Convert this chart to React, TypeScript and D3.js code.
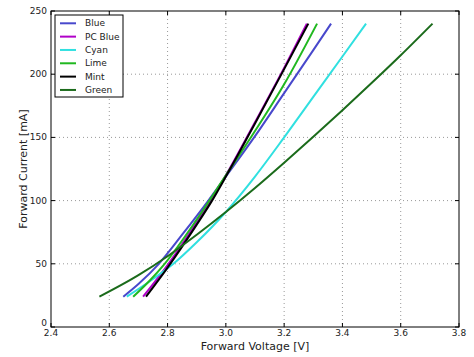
import React from "react";
import * as d3 from "d3";

const seriesNames = ["Blue", "PC Blue", "Cyan", "Lime", "Mint", "Green"];
const seriesColors = ["#4848cc", "#b000c8", "#30e0e0", "#20b820", "#000000", "#1b6b1b"];

const blueV = [2.648, 2.7, 2.77, 2.85, 2.94, 3.0, 3.1, 3.2, 3.3, 3.361];
const blueI = [24, 34, 50, 73, 100, 119, 151, 185, 219, 240];
const pcBlueV = [2.716, 2.8, 2.9, 2.95, 3.0, 3.1, 3.2, 3.278];
const pcBlueI = [24, 49, 83, 101, 120, 162, 205, 240];
const cyanV = [2.66, 2.75, 2.82, 2.9, 3.0, 3.1, 3.2, 3.3, 3.4, 3.481];
const cyanI = [24, 38, 50, 67, 91, 119, 150, 182, 214, 240];
const limeV = [2.682, 2.74, 2.79, 2.9, 3.0, 3.1, 3.2, 3.313];
const limeI = [24, 37, 50, 85, 120, 155, 192, 240];
const mintV = [2.726, 2.8, 2.9, 2.95, 3.0, 3.1, 3.2, 3.283];
const mintI = [24, 47, 81, 99, 119, 161, 204, 240];
const greenV = [2.566, 2.7, 2.8, 2.9, 3.0, 3.1, 3.2, 3.3, 3.4, 3.5, 3.6, 3.709];
const greenI = [24, 41, 56, 73, 91, 110, 130, 150.5, 171.5, 193, 215, 240];

const xTicks = [2.4, 2.6, 2.8, 3.0, 3.2, 3.4, 3.6, 3.8];
const yTicks = [0, 50, 100, 150, 200, 250];

const seriesV = [blueV, pcBlueV, cyanV, limeV, mintV, greenV];
const seriesI = [blueI, pcBlueI, cyanI, limeI, mintI, greenI];

const FONT = "DejaVu Sans, sans-serif";

export default function App() {
  const left = 51, right = 459, top = 11, bottom = 327;
  const x = d3.scaleLinear().domain([2.4, 3.8]).range([left, right]);
  const y = d3.scaleLinear().domain([0, 250]).range([bottom, top]);
  const line = d3
    .line<[number, number]>()
    .x((d) => x(d[0]))
    .y((d) => y(d[1]))
    .curve(d3.curveMonotoneX);

  return (
    <svg
      width={474}
      height={357}
      style={{ position: "absolute", left: 0, top: 0, background: "#fff" }}
      fontFamily={FONT}
    >
      <rect x={0} y={0} width={474} height={357} fill="#fff" />
      {/* grid */}
      {xTicks.slice(1, -1).map((t) => (
        <line key={"gx" + t} x1={x(t)} x2={x(t)} y1={top} y2={bottom}
          stroke="#999" strokeWidth={1} strokeDasharray="1,3" />
      ))}
      {yTicks.slice(1, -1).map((t) => (
        <line key={"gy" + t} x1={left} x2={right} y1={y(t)} y2={y(t)}
          stroke="#999" strokeWidth={1} strokeDasharray="1,3" />
      ))}
      {/* series */}
      {seriesNames.map((n, i) => (
        <path
          key={n}
          d={line(seriesV[i].map((v, j) => [v, seriesI[i][j]] as [number, number])) || ""}
          fill="none"
          stroke={seriesColors[i]}
          strokeWidth={2}
        />
      ))}
      {/* frame */}
      <rect x={left} y={top} width={right - left} height={bottom - top}
        fill="none" stroke="#000" strokeWidth={1} />
      {/* ticks */}
      {xTicks.map((t) => (
        <g key={"tx" + t}>
          <line x1={x(t)} x2={x(t)} y1={bottom} y2={bottom - 4} stroke="#000" />
          <line x1={x(t)} x2={x(t)} y1={top} y2={top + 4} stroke="#000" />
          <text x={x(t)} y={336} fontSize={9} textAnchor="middle" fill="#222">
            {t.toFixed(1)}
          </text>
        </g>
      ))}
      {yTicks.map((t) => (
        <g key={"ty" + t}>
          <line x1={left} x2={left + 4} y1={y(t)} y2={y(t)} stroke="#000" />
          <line x1={right} x2={right - 4} y1={y(t)} y2={y(t)} stroke="#000" />
          <text x={47} y={y(t) - (t === 0 ? 4 : 0)} fontSize={9} textAnchor="end"
            dominantBaseline="central" fill="#222">
            {t}
          </text>
        </g>
      ))}
      {/* axis labels */}
      <text x={(left + right) / 2} y={350} fontSize={11} textAnchor="middle" fill="#222">
        Forward Voltage [V]
      </text>
      <text transform={`translate(26.5, ${(top + bottom) / 2}) rotate(-90)`} fontSize={11}
        textAnchor="middle" fill="#222">
        Forward Current [mA]
      </text>
      {/* legend */}
      <rect x={55} y={15} width={68} height={82} fill="#fff" stroke="#000" strokeWidth={1} />
      {seriesNames.map((n, i) => (
        <g key={"lg" + n}>
          <line x1={60} x2={76} y1={23.3 + i * 13.33} y2={23.3 + i * 13.33}
            stroke={seriesColors[i]} strokeWidth={2} />
          <text x={85} y={23.3 + i * 13.33} fontSize={9} dominantBaseline="central" fill="#222">
            {n}
          </text>
        </g>
      ))}
    </svg>
  );
}
